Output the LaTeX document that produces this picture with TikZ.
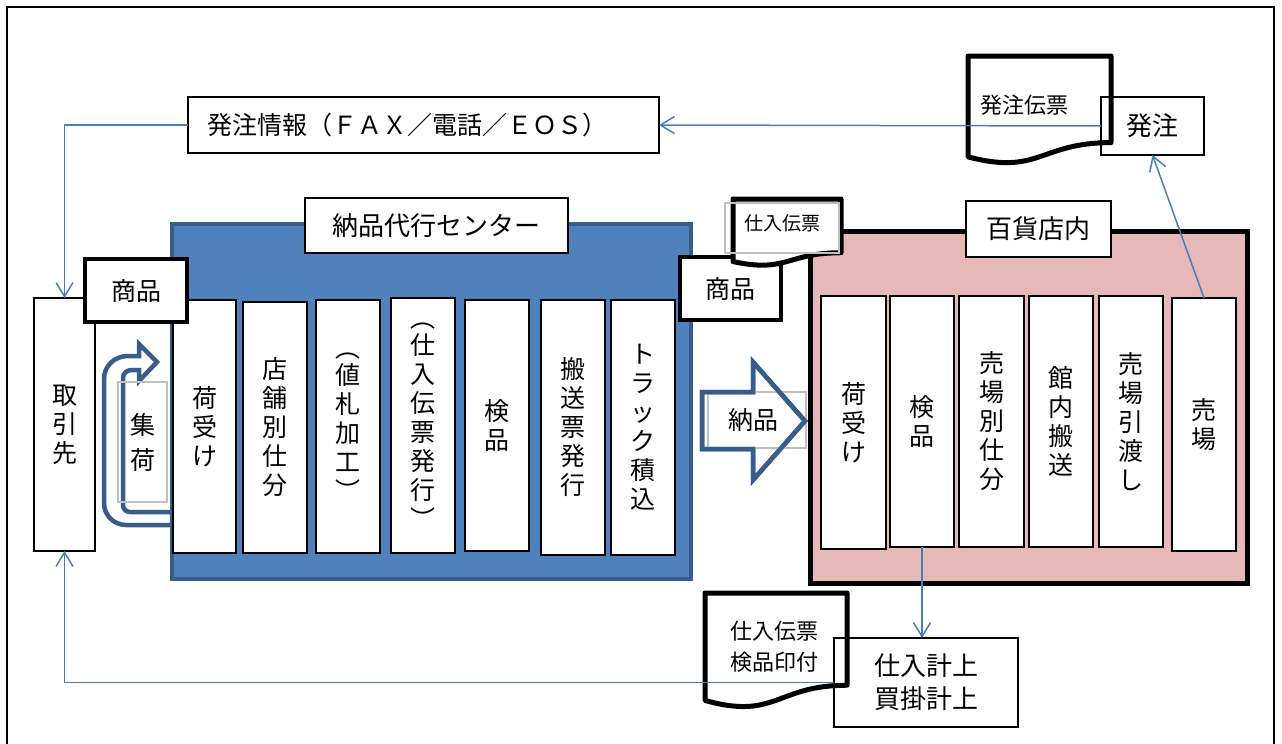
\documentclass[tikz,border=0pt]{standalone}
\usepackage{fontspec}
\newfontfamily\jp{Noto Sans CJK JP}
\usetikzlibrary{arrows.meta}
\definecolor{bluefill}{HTML}{4F81BD}
\definecolor{blueedge}{HTML}{385D8A}
\definecolor{pinkfill}{HTML}{E6B9B8}
\definecolor{lineblue}{HTML}{4A7EBB}
\definecolor{grayedge}{HTML}{BFBFBF}
\newcommand\mydoc[5][]{%
  \draw[#1] (#2,#3) -- ({#2+#4},#3) -- ({#2+#4},{#3+0.802*#5})
    .. controls ({#2+0.5*#4},{#3+0.802*#5}) and ({#2+0.5*#4},{#3+1.1075*#5}) ..
    (#2,{#3+0.934*#5}) -- cycle;}
\begin{document}
\begin{tikzpicture}[x=1pt,y=-1pt,
  font=\jp,
  nw/.style={anchor=north west, inner sep=0pt, outer sep=0pt},
  tbox/.style={nw, draw=black, line width=1.5pt, fill=white},
  thick box/.style={nw, draw=black, line width=3.5pt, fill=white},
  col/.style={nw, draw=black, line width=1.8pt, fill=white, align=center,
    font={\jp\fontsize{25}{29}\selectfont}},
  graybox/.style={nw, draw=grayedge, line width=1.2pt},
  docline/.style={draw=black, line width=5pt, line join=round, fill=white},
  flow/.style={draw=lineblue, line width=1.5pt, -{Straight Barb[length=14pt,width=17pt]}},
  bigarrow/.style={draw=blueedge, line width=4.5pt, line join=miter},
  txt/.style={inner sep=0pt, align=center},
]
\useasboundingbox (0,0) rectangle (1282,744);

% outer frame
\draw[line width=2.5pt] (7,744) -- (7,7) -- (1274,7) -- (1274,744);

% big areas
\node[nw, draw=blueedge, line width=4pt, fill=bluefill, minimum width=519pt, minimum height=355pt] (center) at (172,224) {};
\node[nw, draw=black, line width=5pt, fill=pinkfill, minimum width=437pt, minimum height=352pt] (dept) at (810,231) {};

% 取引先
\node[col, minimum width=61pt, minimum height=253pt] (tori) at (34,298) {取\\引\\先};

% U-turn arrow
\draw[bigarrow, fill=white] (172,525) -- (126,525) .. controls (113.8,525) and (104,515.2) .. (104,503)
  -- (104,379) .. controls (104,365.7) and (114.7,356) .. (128,356) -- (139,356) -- (139,344)
  -- (157,362) -- (139,381) -- (139,370) -- (132,370) .. controls (127,370) and (123,373) .. (123,378)
  -- (123,505) .. controls (123,509) and (126,512) .. (130,512) -- (172,512) -- cycle;
\node[graybox, minimum width=49pt, minimum height=120pt] (shukabox) at (118,382) {};
\node[txt, font={\jp\fontsize{25}{35}\selectfont}] (shuka) at (shukabox.center) {集\\荷};

% center columns
\node[col, minimum width=63pt, minimum height=253pt] (b1) at (173,300) {荷\\受\\け};
\node[col, minimum width=64pt, minimum height=251pt] (b2) at (243,302) {店\\舗\\別\\仕\\分};
\node[col, minimum width=64pt, minimum height=253pt] (b3) at (316,300) {︵\\[-2pt]値\\札\\加\\工\\︶};
\node[col, minimum width=64pt, minimum height=255pt] (b4) at (391,298) {︵\\[-2pt]仕\\入\\伝\\票\\発\\行\\︶};
\node[col, minimum width=64pt, minimum height=251pt] (b5) at (465,300) {検\\品};
\node[col, minimum width=64pt, minimum height=255pt] (b6) at (541,300) {搬\\送\\票\\発\\行};
\node[col, minimum width=64pt, minimum height=255pt] (b7) at (611,300) {ト\\ラ\\ッ\\ク\\積\\込};

% dept columns
\node[col, minimum width=65pt, minimum height=253pt] (p1) at (821,296) {荷\\受\\け};
\node[col, minimum width=64pt, minimum height=251pt] (p2) at (890,296) {検\\品};
\node[col, minimum width=65pt, minimum height=251pt] (p3) at (959,296) {売\\場\\別\\仕\\分};
\node[col, minimum width=64pt, minimum height=251pt] (p4) at (1029,296) {館\\内\\搬\\送};
\node[col, minimum width=64pt, minimum height=251pt] (p5) at (1099,296) {売\\場\\引\\渡\\し};
\node[col, minimum width=64pt, minimum height=253pt] (uriba) at (1172,298) {売\\場};

% area labels
\node[tbox, minimum width=263pt, minimum height=55pt, font={\jp\fontsize{26}{30}\selectfont}] (centerlabel) at (305,198) {納品代行センター};
\node[tbox, minimum width=145pt, minimum height=56pt, font={\jp\fontsize{26}{30}\selectfont}] (deptlabel) at (966,201) {百貨店内};

% 商品 boxes
\node[thick box, minimum width=102pt, minimum height=63pt, font={\jp\fontsize{25}{29}\selectfont}] (goods1) at (85,259) {商品};
\node[thick box, minimum width=101pt, minimum height=63pt, font={\jp\fontsize{25}{29}\selectfont}] (goods2) at (680,257) {商品};

% 仕入伝票 (small document)
\mydoc[docline]{733}{199}{108}{67}
\node[graybox, minimum width=114pt, minimum height=50pt] (slipbox) at (725,203) {};
\node[txt, font={\jp\fontsize{19}{23}\selectfont}] (slip) at (782,223) {仕入伝票};

% 納品 arrow
\draw[bigarrow, fill=white] (702,392) -- (753,392) -- (753,362) -- (805,421) -- (753,480) -- (753,449) -- (702,449) -- cycle;
\node[graybox, minimum width=98pt, minimum height=56pt] (nouhinbox) at (708,392) {};
\draw[bigarrow] (702,392) -- (753,392) -- (753,362) -- (805,421) -- (753,480) -- (753,449) -- (702,449) -- cycle;
\node[txt, font={\jp\fontsize{25}{29}\selectfont}] (nouhin) at (753,420) {納品};

% 発注情報
\node[tbox, minimum width=471pt, minimum height=56pt] (hinfo) at (188,97) {};
\node[txt, font={\jp\fontsize{25}{29}\selectfont}] (hinfotext) at (407,125) {発注情報（ＦＡＸ／電話／ＥＯＳ）};

% 発注伝票 document and 発注 box
\mydoc[docline]{968}{56}{143}{108}
\node[txt, font={\jp\fontsize{22}{26}\selectfont}] (hslip) at (1024,105) {発注伝票};
\node[nw, draw=black, line width=1.5pt, minimum width=103pt, minimum height=58pt, font={\jp\fontsize{26}{30}\selectfont}] (hachu) at (1101,97) {発注};

% 仕入伝票検品印付 document and 仕入計上 box
\mydoc[docline]{705}{593}{142}{115}
\node[txt, font={\jp\fontsize{22}{31}\selectfont}] (kslip) at (774,647) {仕入伝票\\検品印付};
\node[nw, draw=black, line width=1.5pt, minimum width=184pt, minimum height=89pt, align=center, font={\jp\fontsize{26}{33}\selectfont}] (shiire) at (834,638) {仕入計上\\買掛計上};

% connectors
\draw[flow] (hachu.west) -- (hinfo.east);
\draw[flow] (hinfo.west) -| (tori.north);
\draw[flow] (uriba.north) -- (hachu.south);
\draw[flow] (p2.south) -- (p2.south |- shiire.north);
\draw[flow] (shiire.west) -| (tori.south);
\end{tikzpicture}
\end{document}
